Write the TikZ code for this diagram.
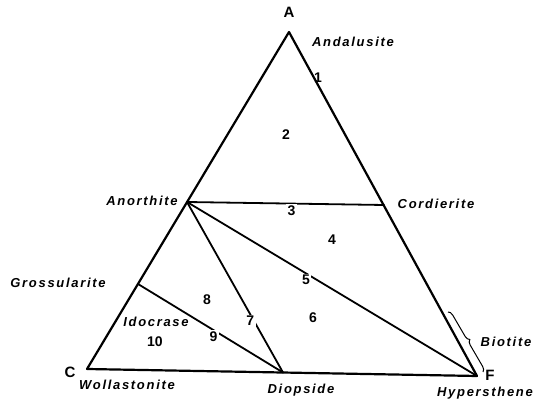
\documentclass[tikz,border=0pt]{standalone}
\usepackage{fontspec}
\usepackage{tkz-euclide}
\usetikzlibrary{decorations.pathreplacing}
\newfontfamily\mineralfont[LetterSpace=13]{Liberation Sans}
\newfontfamily\digitfont{Liberation Sans}
\tikzset{
    mineral/.style={font=\mineralfont\bfseries\itshape\fontsize{13}{13}\selectfont},
    corner/.style={font=\digitfont\bfseries\fontsize{15}{15}\selectfont},
    field/.style={font=\digitfont\bfseries\fontsize{14}{14}\selectfont},
    cut/.style={field,fill=white,inner sep=1.5pt},
}

\begin{document}
\begin{tikzpicture}[x=1pt,y=1pt]
    \useasboundingbox (0,0) rectangle (536,401);
    \tkzSetUpLine[black,line width=2.2pt]
    \tkzDefPoints{289/369/A,87/32/C,477/25/F,187/199/N,384/196/K,138/117/G,283/28.5/D}
    \tkzDrawPolygon(A,C,F)
    \tkzDrawSegments[line width=1.8pt](N,K N,F N,D G,D)
    % numbers sitting on the tie lines
    \tkzLabelSegment[cut,pos=.53](N,K){3}
    \tkzLabelSegment[cut,pos=.41](N,F){5}
    \tkzLabelSegment[cut,pos=.66](N,D){7}
    \tkzLabelSegment[cut,pos=.52](G,D){9}
    \foreach \x/\y/\num in {318/323/1,286/266/2,332/161/4,313/83/6,207/101/8,155/59/10}{
        \node[field] (f\num) at (\x,\y) {\num};
    }
    \node[corner] (la) at (289,389) {A};
    \node[corner] (lc) at (70,29) {C};
    \node[corner] (lf) at (490,26) {F};
    \node[mineral] (and) at (353,359) {Andalusite};
    \node[mineral] (ano) at (142,200) {Anorthite};
    \node[mineral] (cor) at (436,197) {Cordierite};
    \node[mineral] (gro) at (58,118) {Grossularite};
    \node[mineral] (ido) at (156,79) {Idocrase};
    \node[mineral] (wol) at (127,16) {Wollastonite};
    \node[mineral] (dio) at (301,11) {Diopside};
    \node[mineral] (hyp) at (485,8) {Hypersthene};
    \node[mineral] (bio) at (506,59) {Biotite};
    % biotite brace along the A-F side
    \coordinate (bt) at (448,89);
    \coordinate (bb) at (483,29);
    \draw[decorate,decoration={brace,amplitude=5pt},line width=1pt] (bt) -- (bb);
\end{tikzpicture}
\end{document}
